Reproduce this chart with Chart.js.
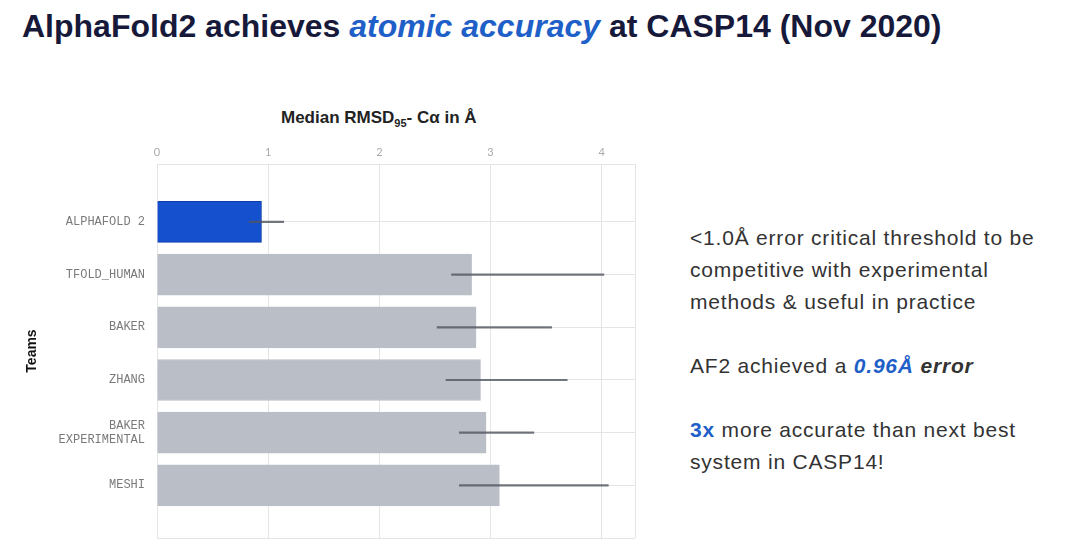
<!DOCTYPE html>
<html>
<head>
<meta charset="utf-8">
<script src="https://cdn.jsdelivr.net/npm/chart.js@4"></script>
<style>
  body { margin: 0; width: 1080px; height: 553px; background: #fff; position: relative; overflow: hidden; font-family: "Liberation Sans", Arial, sans-serif; }
  #title { position: absolute; left: 22px; top: 8px; font-size: 32px; font-weight: bold; color: #16193a; white-space: nowrap; }
  #title em { color: #1f5fc8; }
  #axisTitle { position: absolute; left: 281px; top: 108px; font-size: 17px; font-weight: bold; color: #222; white-space: nowrap; }
  #axisTitle sub { font-size: 11px; }
  #side { position: absolute; left: 690px; top: 222px; font-size: 21px; letter-spacing: 0.8px; line-height: 32px; color: #333; white-space: nowrap; }
  #side p { margin: 0 0 32px 0; }
  .blue { color: #1f5fc8; }
  #wrap { position: absolute; left: 0; top: 140px; width: 640px; height: 403px; }
</style>
</head>
<body>
<div id="title">AlphaFold2 achieves <em>atomic accuracy</em> at CASP14 (Nov 2020)</div>
<div id="axisTitle">Median RMSD<sub>95</sub>- Cα in Å</div>
<div id="side">
  <p>&lt;1.0Å error critical threshold to be<br>competitive with experimental<br>methods &amp; useful in practice</p>
  <p>AF2 achieved a <b><i class="blue">0.96Å</i> <i>error</i></b></p>
  <p><b class="blue">3x</b> more accurate than next best<br>system in CASP14!</p>
</div>
<div id="wrap"><canvas id="chart"></canvas></div>
<script>
const teams = [["ALPHAFOLD 2"], ["TFOLD_HUMAN"], ["BAKER"], ["ZHANG"], ["BAKER", "EXPERIMENTAL"], ["MESHI"]];
const medianRmsd = [0.94, 2.83, 2.87, 2.91, 2.96, 3.08];
const errLow = [0.83, 2.65, 2.52, 2.60, 2.72, 2.72];
const errHigh = [1.14, 4.02, 3.55, 3.69, 3.39, 4.06];
const xTicks = [0, 1, 2, 3, 4];
const xMax = 4.3;
const yMin = -1.1, yMax = 6.0;

const barColors = teams.map((t, i) => i === 0 ? "#1550cf" : "#babec7");
const gridColor = "#e4e4e4";

new Chart(document.getElementById("chart"), {
  type: "bar",
  data: {
    datasets: [
      {
        label: "error",
        data: teams.map((t, i) => ({ x: [errLow[i], errHigh[i]], y: i })),
        backgroundColor: "rgba(80,85,96,0.8)",
        barThickness: 1.5,
        grouped: false,
        order: 0
      },
      {
        label: "Median RMSD",
        data: teams.map((t, i) => ({ x: medianRmsd[i], y: i })),
        backgroundColor: barColors,
        borderColor: teams.map((t, i) => i === 0 ? "#0d3ea8" : "#babec7"),
        borderWidth: 1,
        barThickness: 41,
        grouped: false,
        order: 1
      }
    ]
  },
  options: {
    indexAxis: "y",
    responsive: true,
    maintainAspectRatio: false,
    animation: false,
    layout: { padding: { left: 0, right: 5, top: 0, bottom: 5 } },
    plugins: { legend: { display: false }, tooltip: { enabled: false } },
    scales: {
      x: {
        type: "linear",
        position: "top",
        min: 0,
        max: xMax,
        afterBuildTicks: s => { s.ticks = xTicks.concat([xMax]).map(v => ({ value: v })); },
        afterFit: s => { s.height = 24; s.paddingLeft = 0; s.paddingRight = 0; },
        grid: { color: gridColor, drawTicks: false },
        border: { color: gridColor },
        ticks: {
          padding: 5,
          color: "#aaa",
          font: { family: "Lato, 'Liberation Sans', sans-serif", size: 11 },
          callback: v => xTicks.includes(v) ? String(v) : ""
        }
      },
      y: {
        type: "linear",
        reverse: true,
        offset: false,
        min: yMin,
        max: yMax,
        afterBuildTicks: s => { s.ticks = [yMin].concat(teams.map((t, i) => i), [yMax]).map(v => ({ value: v })); },
        afterFit: s => { s.width = 157; s.paddingTop = 0; s.paddingBottom = 0; },
        grid: { color: gridColor, drawTicks: false, offset: false },
        border: { color: gridColor },
        ticks: {
          padding: 12,
          color: "#7a7a7a",
          font: { family: "'Courier New', 'Liberation Mono', monospace", size: 12 },
          callback: v => Number.isInteger(v) && teams[v] ? teams[v] : ""
        },
        title: {
          display: true,
          text: "Teams",
          color: "#111",
          padding: { top: 24, bottom: 0 },
          font: { family: "'Liberation Sans', Arial, sans-serif", size: 14, weight: "bold" }
        }
      }
    }
  }
});
</script>
</body>
</html>
